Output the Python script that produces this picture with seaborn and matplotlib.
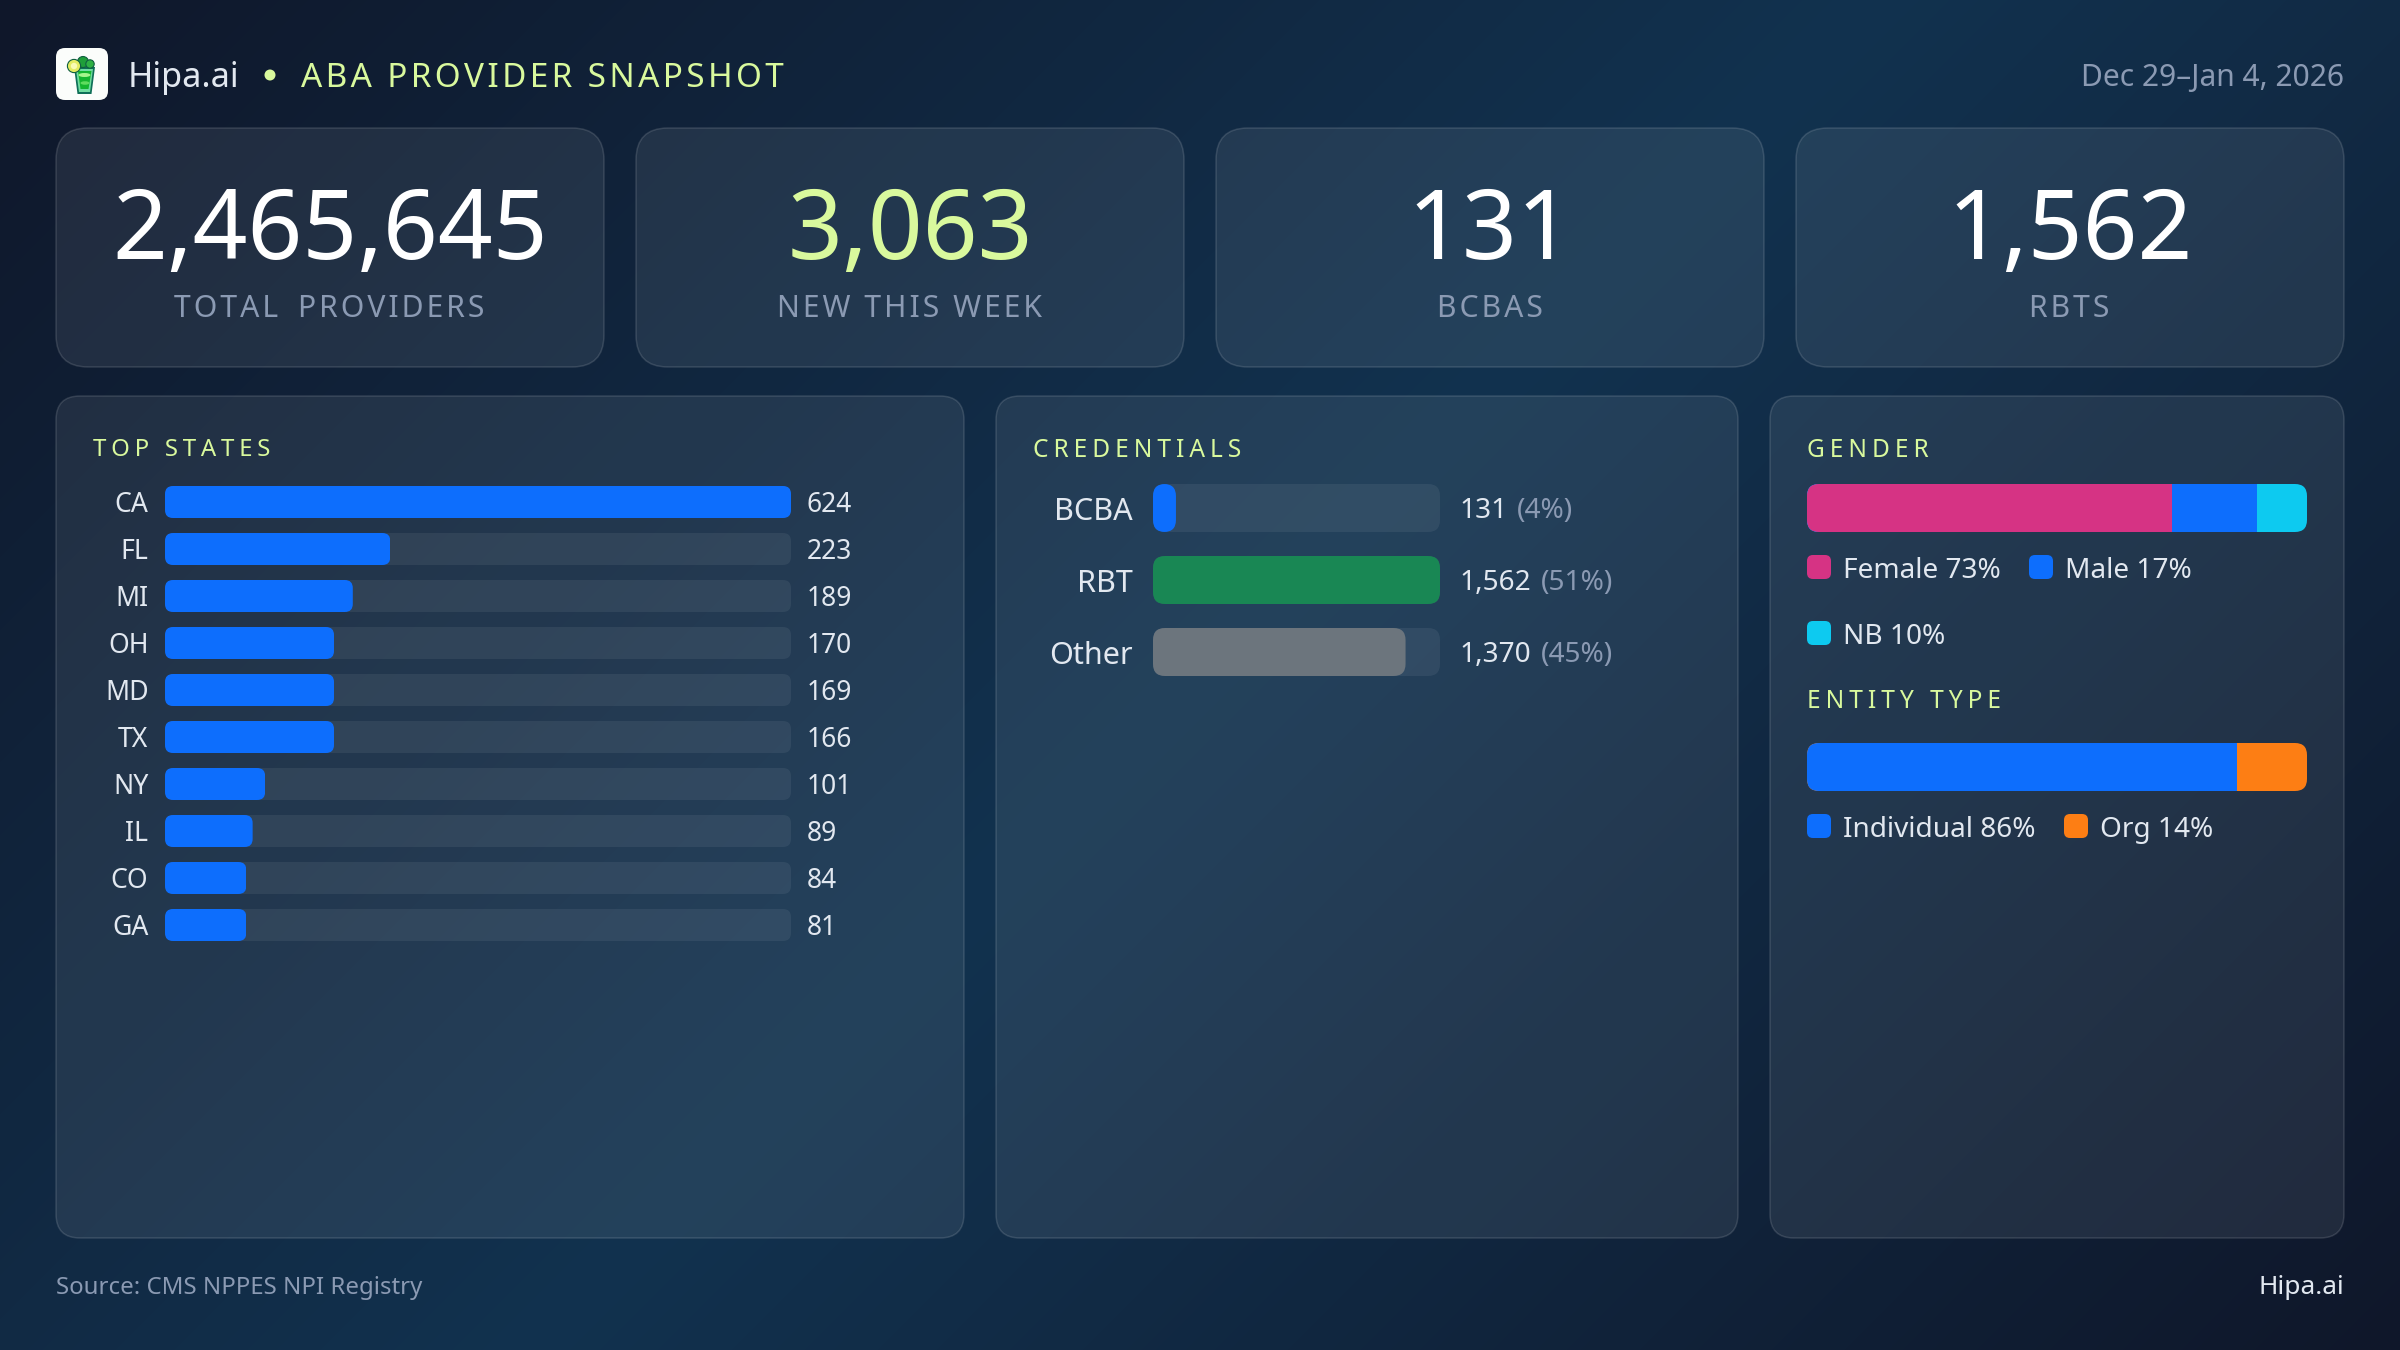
import numpy as np
import matplotlib
matplotlib.use("Agg")
import matplotlib.pyplot as plt
from matplotlib.colors import LinearSegmentedColormap
from matplotlib.patches import FancyBboxPatch, Polygon, Circle, Ellipse
from matplotlib.transforms import IdentityTransform
import seaborn as sns

# data
kpi_values = ["2,465,645", "3,063", "131", "1,562"]
kpi_labels = ["TOTAL\u200a PROVIDERS", "NEW THIS WEEK", "BCBAS", "RBTS"]
state_names = ["CA", "FL", "MI", "OH", "MD", "TX", "NY", "IL", "CO", "GA"]
state_counts = [624, 223, 189, 170, 169, 166, 101, 89, 84, 81]
cred_names = ["BCBA", "RBT", "Other"]
cred_counts = [131, 1562, 1370]
cred_shares = [4, 51, 45]
gender_names = ["Female", "Male", "NB"]
gender_shares = [73, 17, 10]
entity_names = ["Individual", "Org"]
entity_shares = [86, 14]

BLUE, GREEN, GRAY = "#0d6efd", "#198754", "#6c757d"
PINK, CYAN, ORANGE = "#d63384", "#0dcaf0", "#fd7e14"
LIME, LIGHT, MUTED = "#d9f99d", "#e2e8f0", "#8b9ab3"

W, H = 2400, 1350
sns.set_theme(style="white")
plt.rcParams["font.family"] = ["Noto Sans", "DejaVu Sans"]


def fs(px):
    return px * 0.72


def spaced(text, n=1):
    return ("\u200a" * n).join(text)


fig = plt.figure(figsize=(24, 13.5), dpi=100)

# page in pixel coordinates, y going down
page = fig.add_axes([0, 0, 1, 1])
page.set_axis_off()
xx, yy = np.meshgrid(np.arange(W), np.arange(H))
cmap = LinearSegmentedColormap.from_list("bg", ["#0f172a", "#12324f", "#0f172a"])
page.imshow((xx + yy) / (W + H), cmap=cmap, extent=(0, W, H, 0), aspect="auto", vmin=0, vmax=1)
page.set_xlim(0, W)
page.set_ylim(H, 0)


def box(x0, y0, x1, y1, r, **kw):
    p = FancyBboxPatch((x0, y0), x1 - x0, y1 - y0, boxstyle=f"round,pad=0,rounding_size={r}", **kw)
    page.add_patch(p)
    return p


def card(x0, y0, x1, y1, r):
    box(x0, y0, x1, y1, r, fc=(1, 1, 1, 0.08), ec=(1, 1, 1, 0.13), lw=1.1)


def put(x, y, s, px, color, ha="left"):
    return page.text(x, y, s, fontsize=fs(px), color=color, ha=ha, va="baseline")


def chart_axes(x0, y0, x1, y1):
    ax = fig.add_axes([x0 / W, 1 - y1 / H, (x1 - x0) / W, (y1 - y0) / H])
    ax.set_facecolor("none")
    return ax


def clean(ax, nrows):
    ax.set_xlim(0, 100)
    ax.set_ylim(nrows - 0.5, -0.5)
    ax.xaxis.set_visible(False)
    ax.set_ylabel("")
    sns.despine(ax=ax, left=True, bottom=True)


def round_bar(bar, r, extent=None):
    # rounded corners, clipping the bar seaborn drew
    e = extent if extent is not None else bar.get_window_extent()
    clip = FancyBboxPatch((e.x0, e.y0), e.width, e.height,
                          boxstyle=f"round,pad=0,rounding_size={r}",
                          transform=IdentityTransform())
    bar.set_clip_path(clip)


def stacked(x0, y0, x1, y1, shares, colors):
    ax = chart_axes(x0, y0, x1, y1)
    totals = np.cumsum(shares)
    for total, color in zip(totals[::-1], colors[::-1]):
        sns.barplot(x=[total], y=["all"], color=color, saturation=1, width=1, linewidth=0, ax=ax)
    clean(ax, 1)
    ax.yaxis.set_visible(False)
    for bar in ax.patches:
        round_bar(bar, 12, ax.bbox)
    return ax


def legend_item(x, y, color, s, text_x):
    box(x, y, x + 24, y + 24, 6, fc=color, ec="none")
    put(text_x, y + 23, s, 28, LIGHT)


# header
box(56, 48, 108, 100, 9, fc="#fbfdfb", ec="none")
page.add_patch(Polygon([(74, 67), (95, 67), (91.5, 94), (77.5, 94)], fc="#0f6f58", ec="none"))
page.add_patch(Polygon([(76, 69), (93, 69), (90, 92), (79, 92)], fc="#6fdca0", ec="none"))
page.add_patch(Polygon([(78, 71), (91.5, 71), (88.5, 89), (80.5, 89)], fc="#14b52f", ec="none"))
page.add_patch(Ellipse((84.5, 75), 12, 4, fc="#a6f58c", ec="none"))
page.add_patch(Ellipse((85, 83), 9, 3.5, fc="#5fdc5e", ec="none"))
page.add_patch(Circle((83, 62), 5.5, fc="#1f9e3a", ec="#0f5f40", lw=0.8))
page.add_patch(Circle((90, 64), 4.2, fc="#2fb044", ec="#0f5f40", lw=0.8))
page.add_patch(Circle((74, 66), 6.6, fc="#e3ec62", ec="#0f5f40", lw=0.8))
page.add_patch(Circle((74, 66), 3.2, fc="#f8fbb4", ec="none"))

put(128, 87, "Hipa.ai", 34.2, LIGHT)
page.add_patch(Ellipse((270, 75), 11, 11, fc=LIME, ec="none"))
put(301, 87, spaced("ABA PROVIDER SNAPSHOT"), 33.3, LIME)
put(2344, 86, "Dec 29\u2013Jan 4, 2026", 30, MUTED, ha="right")

# kpi row
for i, (value, label) in enumerate(zip(kpi_values, kpi_labels)):
    x0 = 56 + i * 580
    card(x0, 128, x0 + 548, 367, 32)
    put(x0 + 274, 258.5, value, 96, LIME if i == 1 else "white", ha="center")
    put(x0 + 273.5, 317, spaced(label), 30.1, MUTED, ha="center")

# panels
card(56, 396, 964, 1238, 24)
card(996, 396, 1738, 1238, 24)
card(1770, 396, 2344, 1238, 24)

put(93, 456, spaced("TOP STATES", 2), 24, LIME)
put(1033, 457, spaced("CREDENTIALS", 2), 24.5, LIME)
put(1807, 457, spaced("GENDER", 2), 24.5, LIME)
put(1807, 708, spaced("ENTITY TYPE", 2), 24.5, LIME)

# top states
state_pct = np.round(np.array(state_counts) / max(state_counts) * 100)
ax = chart_axes(165, 478.5, 791, 948.5)
sns.barplot(x=[100] * len(state_names), y=state_names, color="white", alpha=0.065,
            width=32 / 47, linewidth=0, ax=ax)
sns.barplot(x=state_pct, y=state_names, color=BLUE, saturation=1, width=32 / 47,
            linewidth=0, ax=ax)
clean(ax, len(state_names))
ax.tick_params(axis="y", length=0, pad=fs(16.5), labelsize=fs(26.6), labelcolor=LIGHT)
for bar in ax.patches:
    round_bar(bar, 8)
labels = ax.bar_label(ax.containers[0], labels=[str(v) for v in state_counts], padding=fs(16),
                      fontsize=fs(26.4), color=LIGHT)
for label in labels:
    label.set_va("center_baseline")

# credentials
cred_pct = np.round(np.array(cred_counts) / max(cred_counts) * 100)
ax = chart_axes(1153, 472, 1440, 688)
sns.barplot(x=[100] * len(cred_names), y=cred_names, color="white", alpha=0.065,
            width=48 / 72, linewidth=0, ax=ax)
sns.barplot(x=cred_pct, y=cred_names, hue=cred_names, palette=[BLUE, GREEN, GRAY],
            saturation=1, width=48 / 72, linewidth=0, legend=False, ax=ax)
clean(ax, len(cred_names))
ax.tick_params(axis="y", length=0, pad=fs(20.5), labelsize=fs(30.6), labelcolor=LIGHT)
for bar in ax.patches:
    round_bar(bar, 12)
labels = ax.bar_label(ax.containers[0], labels=[f"{v:,}" for v in cred_counts],
                      padding=fs(19), fontsize=fs(28), color=LIGHT)
for label, share in zip(labels, cred_shares):
    label.set_va("center_baseline")
    ax.annotate(f"({share}%)", xy=(1, 0), xycoords=label, xytext=(10, 0),
                textcoords="offset pixels", va="bottom", fontsize=fs(28), color=MUTED)

# gender
gender_colors = [PINK, BLUE, CYAN]
stacked(1807, 484, 2307, 532, gender_shares, gender_colors)
legend_item(1807, 555, gender_colors[0], f"{gender_names[0]} {gender_shares[0]}%", 1843)
legend_item(2029, 555, gender_colors[1], f"{gender_names[1]} {gender_shares[1]}%", 2065)
legend_item(1807, 621, gender_colors[2], f"{gender_names[2]} {gender_shares[2]}%", 1843)

# entity type
entity_colors = [BLUE, ORANGE]
stacked(1807, 743, 2307, 791, entity_shares, entity_colors)
legend_item(1807, 814, entity_colors[0], f"{entity_names[0]} {entity_shares[0]}%", 1843)
legend_item(2064, 814, entity_colors[1], f"{entity_names[1]} {entity_shares[1]}%", 2100)

# footer
put(56, 1294, "Source: CMS NPPES NPI Registry", 24, MUTED)
put(2344, 1294, "Hipa.ai", 26.3, LIGHT, ha="right")

fig.savefig("out.png", dpi=100)
